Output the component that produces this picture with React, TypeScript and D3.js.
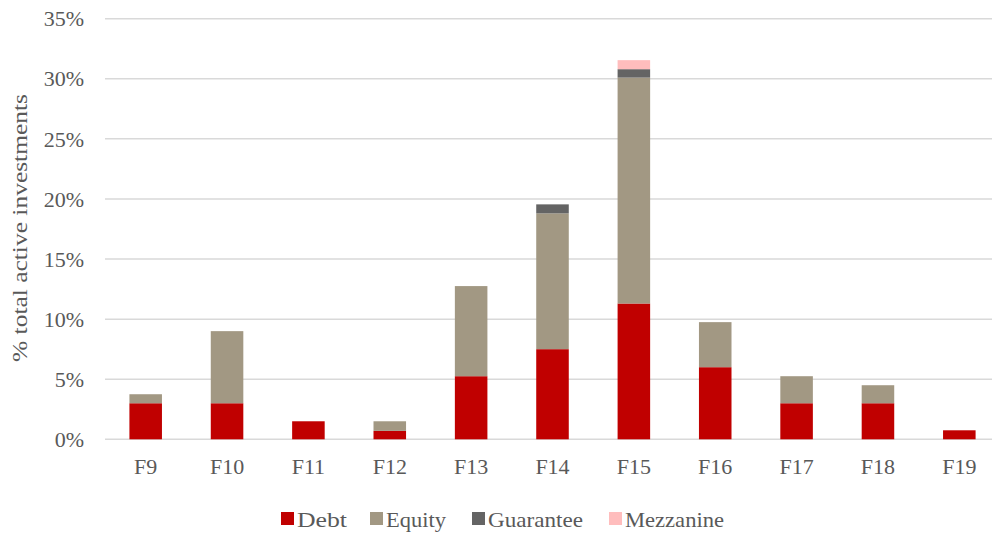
import React from "react";
import * as d3 from "d3";

const categories = ["F9", "F10", "F11", "F12", "F13", "F14", "F15", "F16", "F17", "F18", "F19"];
const debt = [3.0, 3.0, 1.5, 0.7, 5.25, 7.5, 11.3, 6.0, 3.0, 3.0, 0.75];
const equity = [0.75, 6.0, 0, 0.8, 7.5, 11.3, 18.8, 3.75, 2.25, 1.5, 0];
const guarantee = [0, 0, 0, 0, 0, 0.75, 0.7, 0, 0, 0, 0];
const mezzanine = [0, 0, 0, 0, 0, 0, 0.75, 0, 0, 0, 0];
const yTicks = [0, 5, 10, 15, 20, 25, 30, 35];
const seriesNames = ["Debt", "Equity", "Guarantee", "Mezzanine"];
const colors = ["#C00000", "#A29883", "#646464", "#FFBDBD"];

const W = 992, H = 534;
const m = { left: 105, right: 1000, top: 18.7, bottom: 439.3 };
const FONT = "'Liberation Serif', 'DejaVu Serif', serif";
const legendX = [281, 370, 472, 609];
const legendLen = [50, 60, 95, 99];

export default function App() {
  const x = d3.scaleBand().domain(categories).range([m.left, m.right]).paddingInner(0.6).paddingOuter(0.3);
  const y = d3.scaleLinear().domain([0, 35]).range([m.bottom, m.top]);
  const rows = categories.map((c, i) => ({ cat: c, Debt: debt[i], Equity: equity[i], Guarantee: guarantee[i], Mezzanine: mezzanine[i] }));
  const stacked = d3.stack<any>().keys(seriesNames)(rows);
  return (
    <svg width={W} height={H} style={{ display: "block", position: "absolute", left: 0, top: 0 }} fontFamily={FONT}>
      <rect width={W} height={H} fill="#fff" />
      {yTicks.map((t) => (
        <g key={t}>
          <line x1={m.left} x2={W} y1={y(t)} y2={y(t)} stroke="#D9D9D9" strokeWidth={1.5} />
          <text x={84} y={y(t)} dy="0.35em" textAnchor="end" fontSize={22} fill="#595959">{t}%</text>
        </g>
      ))}
      {stacked.map((s, si) => (
        <g key={s.key} fill={colors[si]}>
          {s.map((d, i) => d[1] - d[0] > 0 ? (
            <rect key={i} x={x(categories[i])} width={x.bandwidth()} y={y(d[1])} height={y(d[0]) - y(d[1])} />
          ) : null)}
        </g>
      ))}
      {categories.map((c) => (
        <text key={c} x={(x(c) as number) + x.bandwidth() / 2} y={466.5} dy="0.35em" textAnchor="middle" fontSize={22} fill="#595959">{c}</text>
      ))}
      <text transform={`translate(19,228) rotate(-90)`} textAnchor="middle" dy="0.35em" fontSize={22} fill="#595959" textLength={268} lengthAdjust="spacingAndGlyphs">% total active investments</text>
      {seriesNames.map((n, i) => (
        <g key={n}>
          <rect x={legendX[i]} y={512} width={13} height={13} fill={colors[i]} />
          <text x={legendX[i] + 16} y={519} dy="0.35em" fontSize={22} fill="#595959" textLength={legendLen[i]} lengthAdjust="spacingAndGlyphs">{n}</text>
        </g>
      ))}
    </svg>
  );
}
